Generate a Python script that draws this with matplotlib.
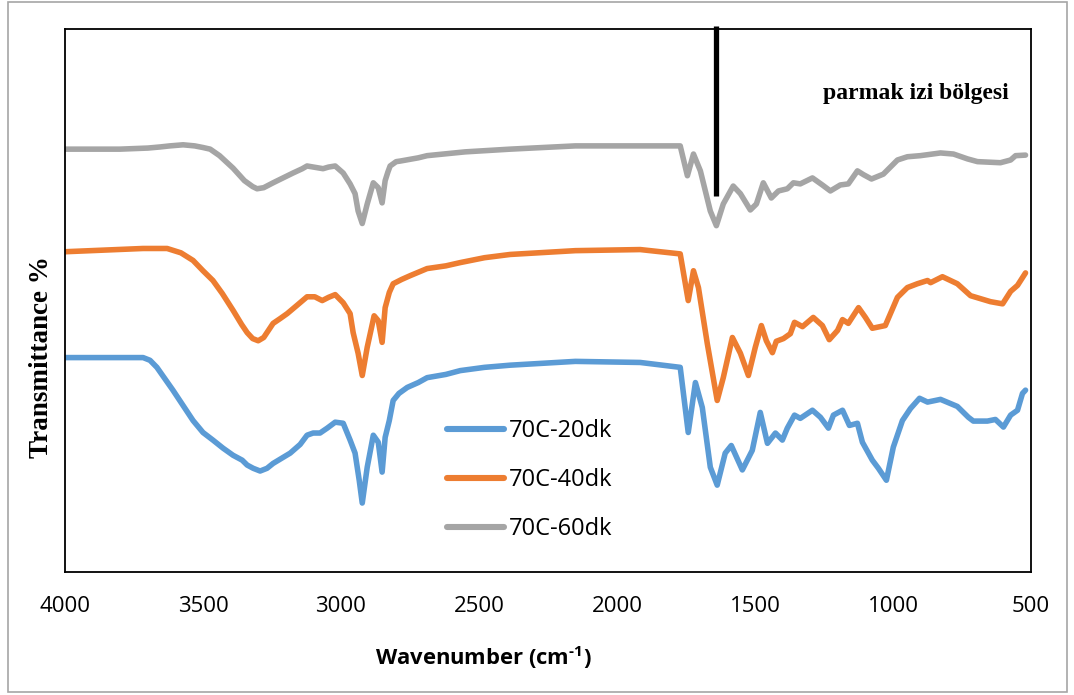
import matplotlib
matplotlib.use("Agg")
import matplotlib.pyplot as plt
from matplotlib.patches import Rectangle

# FTIR spectra, wavenumber (cm-1) and transmittance (arbitrary %, offset per sample)
wn_60 = [4000, 3801, 3700, 3656, 3620, 3572, 3530, 3500, 3474, 3440, 3391, 3350, 3320,
         3304, 3280, 3246, 3210, 3174, 3140, 3123, 3100, 3065, 3045, 3021, 2992, 2967,
         2949, 2938, 2923, 2905, 2883, 2865, 2851, 2840, 2830, 2822, 2800, 2786, 2720,
         2688, 2550, 2387, 2151, 1916, 1771, 1745, 1723, 1698, 1662, 1640, 1615, 1579,
         1553, 1517, 1495, 1470, 1441, 1415, 1383, 1361, 1336, 1292, 1256, 1227, 1191,
         1162, 1129, 1107, 1078, 1035, 984, 948, 901, 828, 781, 730, 694, 611, 574, 556,
         520]
t_60 = [77.9, 77.9, 78.1, 78.3, 78.5, 78.7, 78.5, 78.2, 77.9, 76.7, 74.4, 72.1, 71.0,
        70.6, 70.8, 71.7, 72.6, 73.5, 74.3, 74.8, 74.6, 74.3, 74.6, 74.8, 73.5, 71.5,
        69.7, 66.5, 64.2, 67.8, 71.7, 70.8, 68.0, 72.1, 73.7, 74.8, 75.6, 75.7, 76.3,
        76.7, 77.4, 77.9, 78.5, 78.5, 78.5, 73.0, 77.0, 73.9, 66.5, 63.8, 67.8, 71.1,
        69.7, 66.7, 67.8, 71.7, 68.9, 70.2, 70.6, 71.7, 71.5, 72.6, 71.3, 70.2, 71.3,
        71.5, 73.9, 73.2, 72.4, 73.3, 75.9, 76.5, 76.7, 77.2, 77.0, 76.1, 75.6, 75.4,
        75.9, 76.7, 76.8]

wn_40 = [4000, 3717, 3630, 3580, 3536, 3500, 3464, 3430, 3391, 3360, 3340, 3320, 3300,
         3280, 3246, 3220, 3195, 3160, 3123, 3095, 3068, 3045, 3021, 2992, 2967, 2956,
         2938, 2923, 2905, 2880, 2865, 2851, 2840, 2825, 2811, 2780, 2749, 2688, 2620,
         2568, 2480, 2387, 2151, 1916, 1771, 1742, 1723, 1705, 1673, 1637, 1615, 1582,
         1553, 1524, 1499, 1477, 1459, 1437, 1423, 1397, 1372, 1357, 1328, 1289, 1256,
         1231, 1201, 1183, 1162, 1125, 1100, 1075, 1028, 984, 948, 912, 875, 864, 821,
         767, 719, 647, 603, 574, 549, 520]
t_40 = [59.0, 59.6, 59.6, 58.8, 57.4, 55.5, 53.7, 51.3, 48.2, 45.6, 44.1, 43.0, 42.6,
        43.2, 45.8, 46.7, 47.6, 49.1, 50.7, 50.7, 50.0, 50.6, 51.1, 49.6, 47.6, 44.1,
        40.3, 36.2, 41.4, 47.2, 46.3, 42.3, 48.7, 51.5, 53.1, 53.9, 54.6, 55.9, 56.4,
        57.0, 57.9, 58.5, 59.2, 59.4, 58.6, 50.0, 55.5, 52.4, 42.1, 31.6, 35.8, 43.2,
        40.3, 36.2, 41.4, 45.4, 42.6, 40.4, 42.5, 43.0, 43.9, 46.0, 45.2, 46.9, 45.4,
        42.8, 44.5, 46.5, 45.8, 48.7, 46.9, 44.9, 45.4, 50.6, 52.4, 53.1, 53.7, 53.3,
        54.4, 53.1, 50.9, 49.8, 49.4, 51.7, 52.8, 55.1]

wn_20 = [4000, 3717, 3692, 3667, 3609, 3536, 3500, 3464, 3427, 3391, 3358, 3340, 3318,
         3293, 3268, 3246, 3184, 3148, 3123, 3101, 3076, 3050, 3021, 2992, 2967, 2949,
         2934, 2923, 2905, 2883, 2865, 2851, 2840, 2825, 2811, 2790, 2760, 2720, 2688,
         2620, 2568, 2480, 2387, 2151, 1916, 1771, 1742, 1716, 1691, 1662, 1637, 1608,
         1586, 1546, 1510, 1481, 1455, 1426, 1401, 1383, 1357, 1336, 1292, 1263, 1234,
         1216, 1183, 1158, 1129, 1111, 1075, 1053, 1024, 999, 966, 937, 904, 875, 828,
         767, 727, 709, 658, 629, 600, 574, 549, 531, 520]
t_20 = [39.5, 39.5, 39.0, 37.7, 33.5, 27.9, 25.7, 24.3, 22.8, 21.5, 20.6, 19.7, 19.1,
        18.6, 19.1, 20.0, 21.9, 23.5, 25.2, 25.6, 25.6, 26.5, 27.6, 27.4, 24.3, 21.9,
        16.9, 12.7, 19.3, 25.2, 23.9, 18.4, 24.8, 27.9, 31.6, 32.9, 34.0, 34.9, 35.8,
        36.4, 37.1, 37.7, 38.1, 38.8, 38.6, 37.7, 25.7, 34.9, 30.3, 19.3, 16.0, 21.9,
        23.3, 18.8, 22.4, 29.4, 23.7, 25.6, 24.3, 26.5, 28.9, 28.3, 29.8, 28.5, 26.5,
        28.9, 29.8, 27.0, 27.4, 23.9, 20.6, 19.1, 16.9, 23.0, 27.9, 30.1, 32.0, 31.3,
        31.8, 30.5, 28.5, 27.8, 27.8, 28.1, 26.7, 28.9, 29.8, 32.9, 33.5]

labels = ["70C-20dk", "70C-40dk", "70C-60dk"]
colors = ["#5B9BD5", "#ED7D31", "#A5A5A5"]
x_ticks = [4000, 3500, 3000, 2500, 2000, 1500, 1000, 500]

# fingerprint region marker
marker_wn = 1642
marker_bottom = 69.3

plt.rcParams["mathtext.fontset"] = "custom"
plt.rcParams["mathtext.rm"] = "Open Sans:bold"
plt.rcParams["mathtext.bf"] = "Open Sans:bold"

fig = plt.figure(figsize=(10.74, 6.95), dpi=100)
ax = fig.add_axes([0.0605, 0.177, 0.8995, 0.781])

for wn, t, lab, col in zip([wn_20, wn_40, wn_60], [t_20, t_40, t_60], labels, colors):
    ax.plot(wn, t, color=col, lw=4.0, label=lab, solid_capstyle="round",
            solid_joinstyle="round")

ax.plot([marker_wn, marker_wn], [marker_bottom, 100.6], color="black", lw=3.8,
        clip_on=False, solid_capstyle="butt")
ax.text(918, 88.2, "parmak izi bölgesi", family="Liberation Serif", weight="bold",
        fontsize=17, ha="center", va="center")

ax.set_xlim(4000, 500)
ax.set_ylim(0, 100)
ax.set_xticks(x_ticks)
ax.set_xticklabels([str(v) for v in x_ticks], family="Open Sans", fontsize=16)
ax.set_yticks([])
ax.tick_params(axis="x", length=0, pad=17)
for s in ax.spines.values():
    s.set_linewidth(1.3)
    s.set_color("black")

ax.set_xlabel(r"Wavenumber (cm$^{\text{-}1}$)", family="Open Sans", weight="bold",
              fontsize=15.8, x=0.433, labelpad=20)
ax.set_ylabel("Transmittance %", family="Liberation Serif", weight="bold", fontsize=19.5,
              labelpad=8, y=0.396)

leg = ax.legend(loc="center", bbox_to_anchor=(0.481, 0.169), frameon=False,
                prop={"family": "Open Sans", "size": 17}, handlelength=2.4,
                handletextpad=0.2, labelspacing=1.05, borderpad=0)
for line in leg.get_lines():
    line.set_linewidth(4.4)

# light frame around the whole figure
fig.patches.append(Rectangle((8 / 1074, 1 - 692 / 695), 1059 / 1074, 690 / 695,
                             transform=fig.transFigure, fill=False, edgecolor="#A6A6A6",
                             lw=1.2))

fig.savefig("out.png", dpi=100)
